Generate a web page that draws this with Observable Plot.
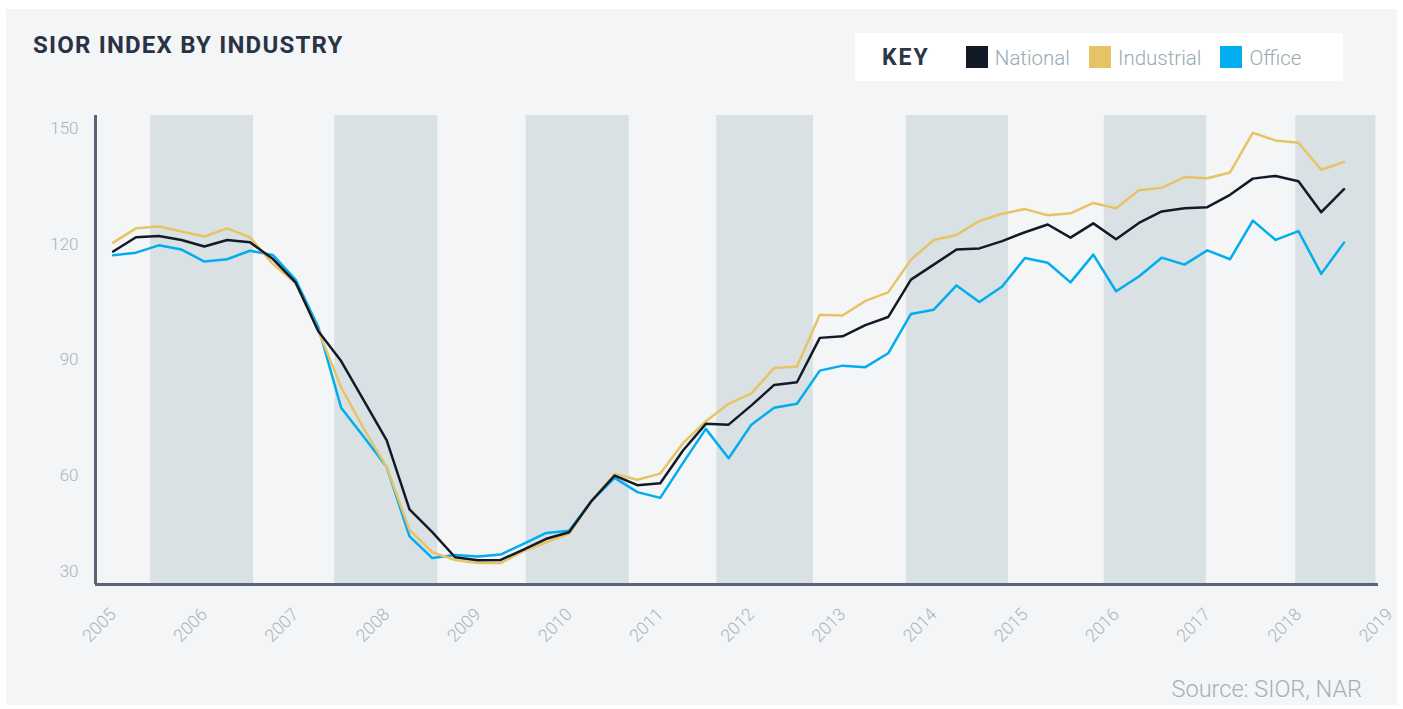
<!DOCTYPE html>
<html>
<head>
<meta charset="utf-8">
<script src="https://cdn.jsdelivr.net/npm/d3@7"></script>
<script src="https://cdn.jsdelivr.net/npm/@observablehq/plot@0.6"></script>
<style>
  body { margin: 0; background: #ffffff; font-family: Roboto, "DejaVu Sans", sans-serif; }
  #wrap { position: relative; width: 1403px; height: 709px; overflow: hidden; background: #ffffff; }
  #panel { position: absolute; left: 6px; top: 9px; width: 1391px; height: 696px; background: #f4f5f7; }
  #title { position: absolute; left: 33px; top: 33px; font-size: 24px; font-weight: 700; letter-spacing: 1.2px; color: #2a3346; line-height: 1; white-space: nowrap; }
  #legend { position: absolute; left: 855px; top: 33px; width: 488px; height: 48px; background: #ffffff; display: flex; align-items: center; }
  #legend .key { margin-left: 27px; margin-right: 36px; font-size: 23px; font-weight: 700; letter-spacing: 2px; color: #2d3648; line-height: 1; }
  #legend .item { display: flex; align-items: center; margin-right: 19px; }
  #legend .sw { width: 22px; height: 22px; margin-right: 7px; }
  #legend .lab { font-size: 20.5px; font-weight: 300; color: #9aa9b2; line-height: 1; margin-top: 2px; }
  #chart { position: absolute; left: 0; top: 0; }
  #source { position: absolute; right: 41px; top: 678px; font-size: 23.5px; font-weight: 300; color: #a4b0b8; line-height: 1; white-space: nowrap; }
</style>
</head>
<body>
<div id="wrap">
  <div id="panel"></div>
  <div id="chart"></div>
  <div id="title">SIOR INDEX BY INDUSTRY</div>
  <div id="legend"></div>
  <div id="source">Source: SIOR, NAR</div>
</div>
<script>
// Quarterly series, starting 2005 Q1
const startYear = 2005;
const national = [118.1, 121.8, 122.1, 121.1, 119.4, 121.1, 120.5, 116.2, 110.1, 97.4,
  89.7, 79.4, 69.1, 51.2, 45.3, 38.8, 38.0, 38.1, 40.8, 43.6,
  45.3, 53.5, 60.0, 57.5, 58.0, 66.5, 73.4, 73.2, 78.2, 83.5,
  84.2, 95.7, 96.1, 99.0, 101.1, 110.8, 114.7, 118.6, 118.9, 120.8,
  123.1, 125.1, 121.7, 125.4, 121.3, 125.5, 128.5, 129.3, 129.6, 132.8,
  137.0, 137.7, 136.3, 128.3, 134.3];
const industrial = [120.4, 124.1, 124.6, 123.3, 122.0, 124.1, 121.8, 114.9, 109.9, 97.6,
  82.9, 72.1, 62.2, 45.9, 40.1, 38.1, 37.3, 37.3, 40.4, 42.7,
  44.9, 53.5, 60.4, 58.9, 60.5, 68.4, 74.1, 78.6, 81.3, 87.9,
  88.3, 101.7, 101.5, 105.3, 107.5, 116.0, 121.1, 122.4, 126.0, 127.9,
  129.1, 127.5, 128.0, 130.7, 129.3, 134.0, 134.6, 137.4, 137.1, 138.6,
  148.9, 146.9, 146.3, 139.3, 141.3];
const office = [117.1, 117.8, 119.7, 118.6, 115.5, 116.1, 118.3, 117.2, 110.8, 98.5,
  77.6, 70.0, 62.2, 44.2, 38.6, 39.4, 39.0, 39.5, 42.3, 45.1,
  45.7, 53.5, 59.4, 55.7, 54.2, 63.3, 72.1, 64.5, 73.2, 77.6,
  78.6, 87.2, 88.5, 88.1, 91.7, 101.9, 103.0, 109.3, 105.0, 109.0,
  116.4, 115.2, 110.1, 117.3, 107.8, 111.6, 116.5, 114.7, 118.4, 116.1,
  126.1, 121.1, 123.4, 112.3, 120.4];

const seriesNames = ["National", "Industrial", "Office"];
const seriesColors = ["#121a28", "#e6c466", "#00aeef"];
const yTicks = [30, 60, 90, 120, 150];
const xTicks = [2005, 2006, 2007, 2008, 2009, 2010, 2011, 2012, 2013, 2014, 2015, 2016, 2017, 2018, 2019];
const bandStarts = [2005.41, 2007.43, 2009.53, 2011.62, 2013.70, 2015.87, 2017.97];
const bandEnds = [2006.54, 2008.56, 2010.66, 2012.68, 2014.82, 2016.99, 2018.85];

const xDomain = [2004.806, 2018.878];
const yDomain = [31.74, 153.37];

const rows = [];
[national, industrial, office].forEach((arr, s) =>
  arr.forEach((v, i) => rows.push({series: seriesNames[s], t: startYear + i / 4, v}))
);
const bands = bandStarts.map((s, i) => ({start: s, end: bandEnds[i]}));
const drawOrder = ["Office", "Industrial", "National"];
rows.sort((a, b) => drawOrder.indexOf(a.series) - drawOrder.indexOf(b.series));

const labelColor = "#a7b4bc";
const axisColor = "#5a6477";

const chart = Plot.plot({
  width: 1403,
  height: 709,
  marginLeft: 95,
  marginRight: 25,
  marginTop: 115,
  marginBottom: 125,
  x: {domain: xDomain},
  y: {domain: yDomain},
  color: {domain: seriesNames, range: seriesColors},
  style: {fontFamily: "Roboto, sans-serif", fontSize: "17px", fontWeight: 300, color: labelColor, background: "transparent", overflow: "visible"},
  marks: [
    Plot.rect(bands, {x1: "start", x2: "end", y1: yDomain[0], y2: yDomain[1], fill: "#dae1e4"}),
    Plot.axisY({ticks: yTicks.filter(d => d >= yDomain[0]), tickSize: 0, tickPadding: 17, label: null, fill: labelColor}),
    Plot.text([yTicks[0]], {frameAnchor: "bottom-left", text: d => String(d), dx: -17, dy: -8, textAnchor: "end", fill: labelColor}),
    Plot.axisX({ticks: xTicks, tickSize: 0, tickPadding: 27, tickRotate: -45, tickFormat: d => String(d), label: null, fill: labelColor, fontSize: 17.5}),
    Plot.line(rows, {x: "t", y: "v", z: "series", stroke: "series", strokeWidth: 2.5}),
    Plot.ruleX([xDomain[0]], {stroke: axisColor, strokeWidth: 3}),
    Plot.ruleY([yDomain[0]], {stroke: axisColor, strokeWidth: 3})
  ]
});
document.getElementById("chart").appendChild(chart);

// Legend
const legend = document.getElementById("legend");
const key = document.createElement("div");
key.className = "key";
key.textContent = "KEY";
legend.appendChild(key);
seriesNames.forEach((name, i) => {
  const item = document.createElement("div");
  item.className = "item";
  const sw = document.createElement("div");
  sw.className = "sw";
  sw.style.background = seriesColors[i];
  const lab = document.createElement("div");
  lab.className = "lab";
  lab.textContent = name;
  item.appendChild(sw);
  item.appendChild(lab);
  legend.appendChild(item);
});
</script>
</body>
</html>
